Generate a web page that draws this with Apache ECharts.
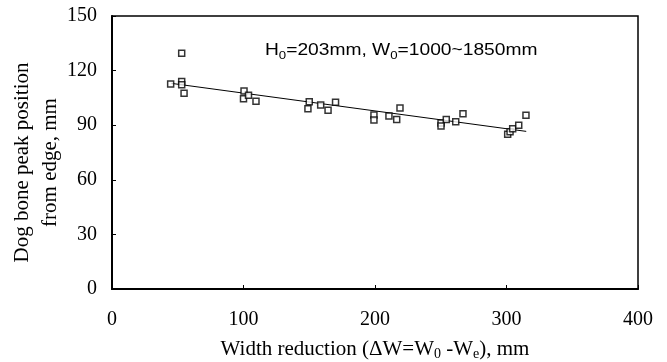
<!DOCTYPE html>
<html>
<head>
<meta charset="utf-8">
<script src="https://cdn.jsdelivr.net/npm/echarts@6/dist/echarts.min.js"></script>
<style>
html,body{margin:0;padding:0;background:#fff;}
#main{width:667px;height:362px;}
</style>
</head>
<body>
<div id="main"></div>
<script>
// 数据
var widthReduction = [44.6, 53, 53, 53, 54.8, 100.4, 100, 103.8, 109.5, 149, 150, 158.7, 164.3, 170,
    199.2, 199.2, 210.6, 216.5, 219, 250.2, 250.2, 254.2, 261.4, 266.9, 300.9, 302.7, 304.7, 309.3, 314.8];
var peakPosition = [112.6, 129.5, 114, 112.2, 107.5, 108.8, 104.6, 106.4, 103.2, 99.1, 102.9, 101.1, 98.2, 102.6,
    95.6, 92.9, 95, 93.2, 99.5, 91.2, 89.6, 93.2, 91.9, 96.3, 85, 86.4, 88, 90, 95.4];
var trendX = [45, 315];
var trendY = [113.0, 86.6];
var xTicks = [0, 100, 200, 300, 400];
var yTicks = [0, 30, 60, 90, 120, 150];

var points = [];
for (var i = 0; i < widthReduction.length; i++) {
    points.push([widthReduction[i], peakPosition[i]]);
}
var trend = [];
for (var j = 0; j < trendX.length; j++) {
    trend.push([trendX[j], trendY[j]]);
}

var serif = '"Liberation Serif", "Times New Roman", serif';
var myChart = echarts.init(document.getElementById('main'));
var option = {
    animation: false,
    backgroundColor: '#fff',
    grid: {
        left: 112,
        right: 29,
        top: 16,
        bottom: 73,
        outerBoundsMode: 'none',
        containLabel: false,
        show: true,
        borderColor: '#000',
        borderWidth: 1.5
    },
    xAxis: {
        type: 'value',
        min: xTicks[0],
        max: xTicks[xTicks.length - 1],
        interval: 100,
        name: 'Width reduction (ΔW=W{sub|0} -W{sub|e}), mm',
        nameLocation: 'middle',
        nameGap: 48,
        nameMoveOverlap: false,
        nameTextStyle: {
            fontFamily: serif,
            fontSize: 21,
            color: '#000',
            rich: {
                sub: {fontFamily: serif, fontSize: 14, color: '#000', padding: [10, 0, 0, 0]}
            }
        },
        axisLine: {lineStyle: {color: '#000', width: 2}},
        axisTick: {inside: true, length: 4, lineStyle: {color: '#000', width: 1}},
        axisLabel: {fontFamily: serif, fontSize: 20, color: '#000', margin: 21},
        splitLine: {show: false}
    },
    yAxis: {
        type: 'value',
        min: yTicks[0],
        max: yTicks[yTicks.length - 1],
        interval: 30,
        name: 'Dog bone peak position\nfrom edge, mm',
        nameLocation: 'middle',
        nameGap: 48,
        nameMoveOverlap: false,
        nameTextStyle: {
            fontFamily: serif,
            fontSize: 21,
            color: '#000',
            lineHeight: 28,
            padding: [0, 20, 0, 0]
        },
        axisLine: {lineStyle: {color: '#000', width: 2}},
        axisTick: {inside: true, length: 4, lineStyle: {color: '#000', width: 1}},
        axisLabel: {fontFamily: serif, fontSize: 20, color: '#000', margin: 15},
        splitLine: {show: false}
    },
    graphic: [{
        type: 'text',
        left: 265,
        top: 43,
        scaleX: 1.2,
        style: {
            text: 'H{sub|0}=203mm, W{sub|0}=1000~1850mm',
            font: '16px "Liberation Sans", Arial, sans-serif',
            fill: '#000',
            rich: {
                sub: {fontFamily: '"Liberation Sans", Arial, sans-serif', fontSize: 11, fill: '#000', padding: [9, 0, 0, 0]}
            }
        }
    }],
    series: [{
        name: 'measured',
        type: 'scatter',
        data: points,
        symbol: 'rect',
        symbolSize: 6,
        itemStyle: {color: '#fff', borderColor: '#000', borderWidth: 1.5}
    }, {
        name: 'trend',
        type: 'line',
        data: trend,
        showSymbol: false,
        symbol: 'none',
        lineStyle: {color: '#000', width: 1},
        z: 1
    }]
};
myChart.setOption(option);
</script>
</body>
</html>
